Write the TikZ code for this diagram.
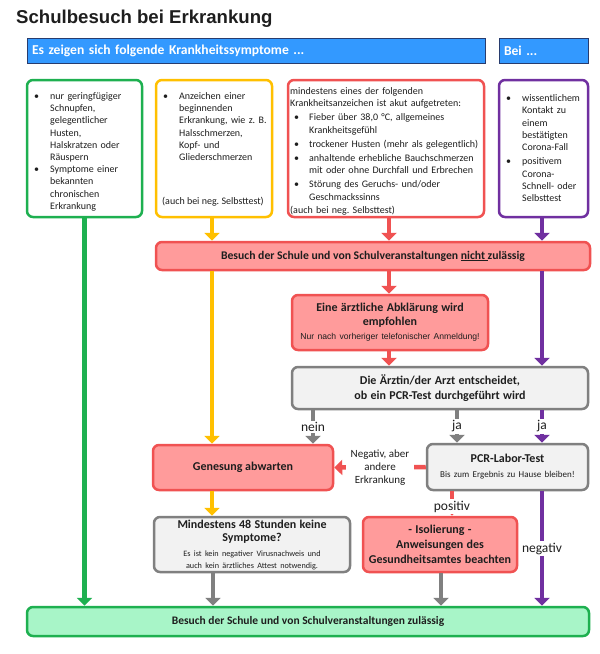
\documentclass[tikz,border=0pt]{standalone}
\usepackage{fontspec}
\setmainfont{Carlito}
\newfontfamily\arialf{Liberation Sans}
\usetikzlibrary{arrows.meta}
\frenchspacing
\definecolor{cgreen}{RGB}{30,176,80}
\definecolor{cyellow}{RGB}{255,192,0}
\definecolor{cred}{RGB}{240,82,82}
\definecolor{credfill}{RGB}{255,155,155}
\definecolor{cpurple}{RGB}{112,48,160}
\definecolor{cgrey}{RGB}{128,128,128}
\definecolor{cgreyfill}{RGB}{242,242,242}
\definecolor{cblue}{RGB}{51,153,255}
\definecolor{cbluedark}{RGB}{40,60,110}
\definecolor{cmint}{RGB}{168,245,200}
\definecolor{ctext}{RGB}{30,30,30}
\newcommand\bitem[3]{\par\noindent\hangindent=#1\hangafter=1\makebox[#1][l]{\hspace{#2}\textbullet}#3\par}
\begin{document}
\begin{tikzpicture}[x=1pt,y=-1pt,
  frame/.style={draw, rounded corners=6pt, line width=2.5pt, inner sep=0pt, text=ctext, align=center},
  redframe/.style={frame, draw=cred, fill=credfill},
  greyframe/.style={frame, draw=cgrey, fill=cgreyfill},
  bluebar/.style={draw=cbluedark, line width=0.8pt, fill=cblue, inner xsep=5pt, inner ysep=0pt, text=white, align=left, font=\bfseries\fontsize{13.6}{15}\selectfont},
  listtxt/.style={anchor=north west, inner sep=0pt, text width=#1, align=left, font=\fontsize{10}{12.2}\selectfont, text=ctext},
  arr/.style={line width=4.5pt, -{Triangle[width=15pt,length=8pt]}},
  lbl/.style={fill=white, inner sep=1.5pt, font=\fontsize{13.5}{15}\selectfont, text=ctext},
  bfont/.style={font=\bfseries\fontsize{12}{15}\selectfont}
]
\useasboundingbox (0,0) rectangle (600,654);
\fill[white] (0,0) rectangle (600,654);

% title
\node[anchor=west, inner sep=0pt, text=ctext, font=\arialf\bfseries\fontsize{18.6}{22}\selectfont] (title) at (16,19) {Schulbesuch bei Erkrankung};

% blue header bars
\node[bluebar, minimum width=458pt, minimum height=25pt, text width=448pt] (bar1) at (256,50.5) {Es zeigen sich folgende Krankheitssymptome ...};
\node[bluebar, minimum width=89pt, minimum height=25pt, text width=79pt] (bar2) at (543.5,50.5) {Bei ...};

% four symptom boxes
\node[frame, draw=cgreen, fill=white, minimum width=115pt, minimum height=137pt] (gbox) at (84.5,148.5) {};
\node[frame, draw=cyellow, fill=white, minimum width=116pt, minimum height=137pt] (ybox) at (214,148.5) {};
\node[frame, draw=cred, fill=white, minimum width=196pt, minimum height=137pt] (rbox) at (386,148.5) {};
\node[frame, draw=cpurple, fill=white, minimum width=89pt, minimum height=137pt] (pbox) at (543.5,148.5) {};

\node[listtxt=105pt] (gtxt) at (34,87) {\bitem{16pt}{0pt}{nur geringfügiger\newline Schnupfen,\newline gelegentlicher\newline Husten,\newline Halskratzen oder\newline Räuspern}\bitem{16pt}{0pt}{Symptome einer\newline bekannten\newline chronischen\newline Erkrankung}};

\node[listtxt=108pt] (ytxt) at (163,87) {\bitem{16pt}{0pt}{Anzeichen einer\newline beginnenden\newline Erkrankung, wie z. B.\newline Halsschmerzen,\newline Kopf- und\newline Gliederschmerzen}};
\node[anchor=base west, inner sep=0pt, text=ctext, font=\fontsize{10}{12.2}\selectfont] (ynote) at (162,204.5) {(auch bei neg. Selbsttest)};

\node[listtxt=193pt, font=\fontsize{10}{12.6}\selectfont] (rtxt) at (290,87) {\noindent mindestens eines der folgenden\newline Krankheitsanzeichen ist akut aufgetreten:\par\vspace{1.4pt}%
\bitem{19pt}{4pt}{Fieber über 38,0 °C, allgemeines\newline Krankheitsgefühl}\vspace{1.4pt}%
\bitem{19pt}{4pt}{trockener Husten (mehr als gelegentlich)}\vspace{1.4pt}%
\bitem{19pt}{4pt}{anhaltende erhebliche Bauchschmerzen\newline mit oder ohne Durchfall und Erbrechen}\vspace{1.4pt}%
\bitem{19pt}{4pt}{Störung des Geruchs- und/oder\newline Geschmackssinns}%
\noindent(auch bei neg. Selbsttest)\par};

\node[listtxt=80pt, font=\fontsize{10}{12.3}\selectfont] (ptxt) at (506,89) {\bitem{16pt}{0pt}{wissentlichem\newline Kontakt zu\newline einem\newline bestätigten\newline Corona-Fall}\vspace{1.7pt}\bitem{16pt}{0pt}{positivem\newline Corona-\newline Schnell- oder\newline Selbsttest}};

% flow boxes
\node[redframe, minimum width=434pt, minimum height=28pt, font=\bfseries\fontsize{11.7}{13}\selectfont] (nbar) at (373,256) {Besuch der Schule und von Schulveranstaltungen \underline{nicht\ }zulässig};

\node[redframe, minimum width=196pt, minimum height=55pt, text width=196pt] (abk) at (390,322.5) {{\bfseries\fontsize{12}{14}\selectfont Eine ärztliche Abklärung wird\\empfohlen\par}{\arialf\fontsize{8.6}{14}\selectfont Nur nach vorheriger telefonischer Anmeldung!\par}};

\node[greyframe, minimum width=296pt, minimum height=42pt, text width=296pt] (dec) at (440,388) {{\bfseries\fontsize{12}{15}\selectfont Die Ärztin/der Arzt entscheidet,\\ob ein PCR-Test durchgeführt wird\par}};

\node[redframe, minimum width=180pt, minimum height=45pt, bfont] (gen) at (243,467.5) {Genesung abwarten};

\node[greyframe, minimum width=161pt, minimum height=46pt, text width=161pt] (pcr) at (507.5,467) {{\bfseries\fontsize{12}{15}\selectfont PCR-Labor-Test\par}{\fontsize{9}{15}\selectfont Bis zum Ergebnis zu Hause bleiben!\par}};

\node[greyframe, minimum width=196pt, minimum height=55pt, text width=196pt] (mind) at (252,544.5) {{\bfseries\fontsize{12}{13}\selectfont Mindestens 48 Stunden keine\\Symptome?\par}{\fontsize{8.2}{12}\selectfont\vspace{3pt}Es ist kein negativer Virusnachweis und\\auch kein ärztliches Attest notwendig.\par}};

\node[redframe, minimum width=154pt, minimum height=55pt, text width=154pt] (iso) at (440,544.5) {{\bfseries\fontsize{12}{15}\selectfont - Isolierung -\\Anweisungen des\\Gesundheitsamtes beachten\par}};

\node[frame, draw=cgreen, fill=cmint, minimum width=562pt, minimum height=29pt, font=\bfseries\fontsize{11.5}{13}\selectfont] (gbar) at (308,621.5) {Besuch der Schule und von Schulveranstaltungen zulässig};

% x positions of the vertical connectors
\coordinate (xy) at (212,0);
\coordinate (xr) at (389,0);
\coordinate (xp) at (542,0);
\coordinate (xn) at (313,0);
\coordinate (xj) at (457,0);
\coordinate (xpos) at (452,0);
\coordinate (xmg) at (213,0);
\coordinate (xig) at (441,0);

% connectors
\draw[arr, cgreen] (gbox.south) -- (gbox.south |- gbar.north);

\draw[arr, cyellow] (xy |- ybox.south) -- (xy |- nbar.north);
\draw[arr, cyellow] (xy |- nbar.south) -- (xy |- gen.north);
\draw[arr, cyellow] (xy |- gen.south) -- (xy |- mind.north);

\draw[arr, cred] (xr |- rbox.south) -- (xr |- nbar.north);
\draw[arr, cred] (xr |- nbar.south) -- (xr |- abk.north);
\draw[arr, cred] (xr |- abk.south) -- (xr |- dec.north);

\draw[arr, cpurple] (xp |- pbox.south) -- (xp |- nbar.north);
\draw[arr, cpurple] (xp |- nbar.south) -- (xp |- dec.north);
\draw[arr, cpurple] (xp |- dec.south) -- node[lbl] (lja2) {ja} (xp |- pcr.north);
\draw[arr, cpurple] (xp |- pcr.south) -- node[lbl] (lneg) {negativ} (xp |- gbar.north);

\draw[arr, cgrey] (xn |- dec.south) -- node[lbl] (lnein) {nein} (xn |- gen.north);
\draw[arr, cgrey] (xj |- dec.south) -- node[lbl] (lja) {ja} (xj |- pcr.north);
\draw[arr, cgrey] (xmg |- mind.south) -- (xmg |- gbar.north);
\draw[arr, cgrey] (xig |- iso.south) -- (xig |- gbar.north);

\draw[arr, cred] (pcr.west) -- node[lbl, align=center, font=\fontsize{11}{13}\selectfont, inner xsep=5pt] (lnegab) {Negativ, aber\\andere\\Erkrankung} (gen.east);
\draw[arr, cred] (xpos |- pcr.south) -- node[lbl, pos=0.62] (lpos) {positiv} (xpos |- iso.north);
\end{tikzpicture}
\end{document}
